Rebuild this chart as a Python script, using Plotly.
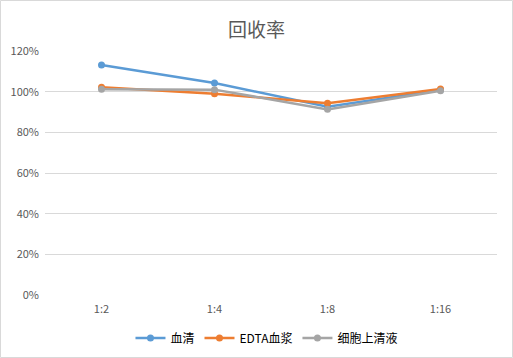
import plotly.graph_objects as go

categories = ["1:2", "1:4", "1:8", "1:16"]
serum = [1.131, 1.043, 0.926, 1.008]
edta_plasma = [1.022, 0.990, 0.943, 1.013]
supernatant = [1.012, 1.010, 0.913, 1.005]
series_names = ["血清", "EDTA血浆", "细胞上清液"]
colors = ["#5B9BD5", "#ED7D31", "#A5A5A5"]
tick_vals = [0, 0.2, 0.4, 0.6, 0.8, 1.0, 1.2]
tick_text = ["0%", "20%", "40%", "60%", "80%", "100%", "120%"]

fig = go.Figure()
for name, vals, c in zip(series_names, [serum, edta_plasma, supernatant], colors):
    fig.add_trace(go.Scatter(
        x=categories, y=vals, name=name, mode="lines+markers",
        line=dict(color=c, width=2.5), marker=dict(color=c, size=7),
    ))

fig.update_layout(
    width=513, height=358,
    margin=dict(l=45, r=16, t=51, b=63, autoexpand=False),
    paper_bgcolor="white", plot_bgcolor="white",
    font=dict(family="Noto Sans CJK SC, Liberation Sans", size=11, color="#595959"),
    title=dict(text="回收率", x=0.5, xanchor="center", y=1 - 30/358, yanchor="middle",
               font=dict(size=19, color="#595959")),
    showlegend=True,
    legend=dict(orientation="h", x=0.49, xanchor="center", y=-43/244, yanchor="middle",
                font=dict(size=12, color="#000000"), itemwidth=30, tracegroupgap=0),
    xaxis=dict(range=[-0.5, 3.5], showgrid=False, showline=False, zeroline=False, ticks="",
               automargin=False, ticklabelstandoff=6, tickfont=dict(size=11, color="#595959")),
    yaxis=dict(range=[0, 1.2], tickvals=tick_vals, ticktext=tick_text, automargin=False,
               ticklabelstandoff=5,
               showgrid=True, gridcolor="#D9D9D9", gridwidth=1, zeroline=False,
               showline=False, ticks="", tickfont=dict(size=11, color="#595959")),
    shapes=[dict(type="rect", xref="paper", yref="paper", x0=-44.5/452, x1=1+15.5/452,
                 y0=-62.5/244, y1=1+50.5/244, line=dict(color="#D9D9D9", width=1))],
)

fig.write_html("out.html", config={"displayModeBar": False},
               post_script="document.body.style.margin='0';document.body.style.overflow='hidden';")
